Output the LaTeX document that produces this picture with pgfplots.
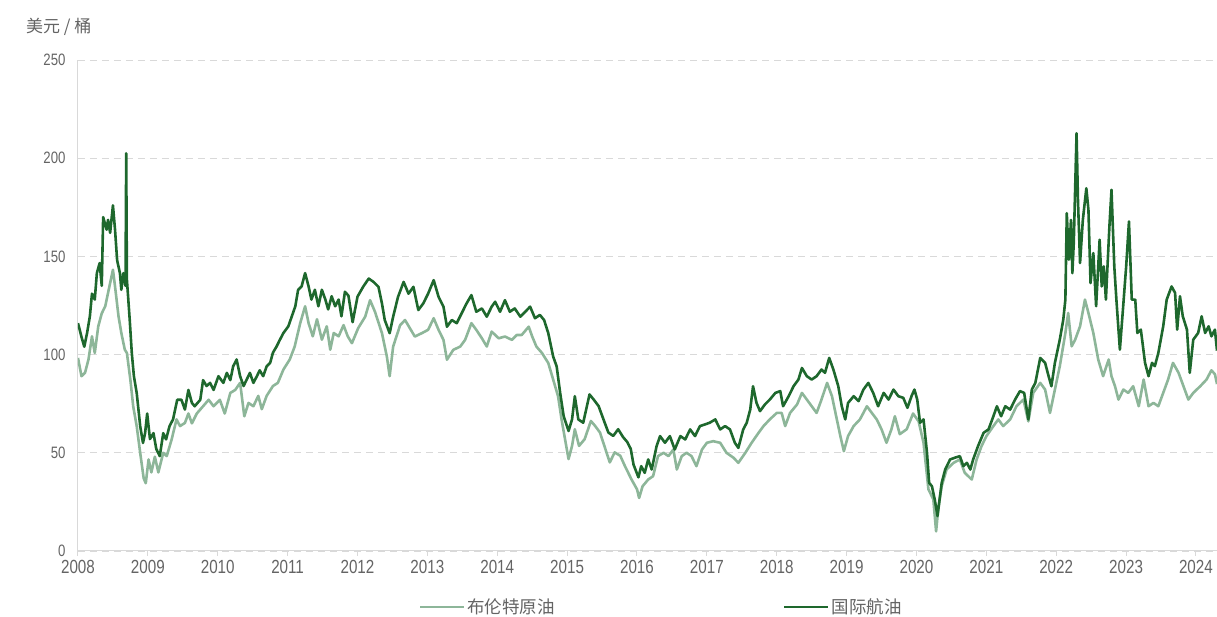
\documentclass[border=0pt]{standalone}
\usepackage{fontspec}
\setmainfont{Liberation Sans}[FakeStretch=0.8]
\newfontfamily\cjk{Noto Sans CJK SC}
\usepackage{pgfplots}
\usepackage{pgfplotstable}
\pgfplotsset{compat=1.18}
\usetikzlibrary{calc}
\definecolor{darkg}{RGB}{30,104,45}
\definecolor{lightg}{RGB}{141,182,153}
\definecolor{txt}{RGB}{100,100,100}
\definecolor{axl}{RGB}{217,217,217}

\pgfplotstableread{
t v
2008.00 116
2008.05 109
2008.09 104
2008.13 111
2008.17 119.5
2008.20 131
2008.24 128
2008.27 141.5
2008.31 146.6
2008.34 135
2008.36 170
2008.41 163.6
2008.43 168.6
2008.46 162
2008.50 176
2008.53 163.6
2008.56 148
2008.60 141.5
2008.62 133
2008.65 141.5
2008.68 135
2008.69 202.5
2008.70 138
2008.72 128
2008.74 117.8
2008.77 100.8
2008.80 89
2008.84 80.5
2008.89 63.6
2008.93 55
2008.96 60
2008.99 70
2009.03 57
2009.08 60
2009.12 52
2009.17 48.3
2009.22 60
2009.26 56.8
2009.31 63.6
2009.36 67
2009.42 77
2009.48 77
2009.53 72
2009.58 82
2009.63 75.4
2009.67 73.7
2009.75 77
2009.79 87
2009.84 84
2009.89 85.6
2009.94 82
2010.01 89
2010.08 85.6
2010.13 90.7
2010.18 87
2010.22 94
2010.27 97.5
2010.32 89
2010.37 84
2010.41 87
2010.46 90.7
2010.51 85.6
2010.56 89
2010.60 92
2010.65 89
2010.70 94
2010.75 95.8
2010.79 101
2010.84 104
2010.89 107.6
2010.94 111
2011.01 114.4
2011.06 119.5
2011.11 124.6
2011.15 133
2011.20 134.7
2011.25 141.5
2011.30 134.7
2011.34 128
2011.39 133
2011.44 124.6
2011.49 133
2011.54 128
2011.58 123
2011.63 129.7
2011.68 124.6
2011.73 128
2011.77 119.5
2011.82 132
2011.87 130
2011.93 116.5
2012.00 129.5
2012.08 134.5
2012.16 138.7
2012.23 137
2012.30 134.5
2012.35 126
2012.39 117.6
2012.46 110.9
2012.51 119.3
2012.58 129.4
2012.66 137
2012.73 131
2012.80 134.5
2012.87 122.7
2012.94 126
2013.01 131
2013.09 137.9
2013.16 129.4
2013.23 124.4
2013.28 114.2
2013.35 117.6
2013.42 116
2013.49 121
2013.56 126
2013.63 130.3
2013.70 121.8
2013.78 123.5
2013.85 119.3
2013.92 124.4
2013.97 126.9
2014.04 121.8
2014.11 127.7
2014.18 121.8
2014.25 123.5
2014.33 119.3
2014.40 121.8
2014.47 124.4
2014.54 118.5
2014.61 120.2
2014.67 117.6
2014.73 110.9
2014.80 99
2014.85 94
2014.90 80.5
2014.95 68.7
2015.02 61.1
2015.07 67
2015.11 78.8
2015.16 67
2015.23 65.3
2015.32 79.7
2015.38 77.1
2015.45 73.8
2015.52 67
2015.59 60.3
2015.66 58.6
2015.73 62
2015.80 58
2015.86 55.5
2015.91 52
2015.95 44
2016.02 37.5
2016.06 43.2
2016.11 39.8
2016.16 46.6
2016.21 41.5
2016.28 53.4
2016.33 58.5
2016.40 55.1
2016.47 58.5
2016.54 51.7
2016.62 58.5
2016.69 56.8
2016.76 61.9
2016.83 58.5
2016.90 63.6
2016.97 64.4
2017.04 65.3
2017.12 67
2017.19 61.9
2017.26 63.6
2017.33 61.9
2017.40 55.1
2017.45 52.5
2017.52 61.9
2017.57 65.3
2017.62 72
2017.66 83.9
2017.71 75.4
2017.76 71.2
2017.83 74.6
2017.90 77.1
2017.98 80.5
2018.05 81.4
2018.09 73.7
2018.17 78.8
2018.24 83.9
2018.31 87.3
2018.36 93.2
2018.43 89
2018.50 87.3
2018.57 89
2018.64 92.4
2018.69 90.7
2018.75 98.3
2018.81 92.4
2018.88 83.9
2018.93 73.7
2018.98 67
2019.02 75.4
2019.10 78.8
2019.17 76.3
2019.24 82.2
2019.31 85.6
2019.38 80.5
2019.45 73.7
2019.53 80.5
2019.60 77.1
2019.67 82.2
2019.74 78.8
2019.81 78
2019.87 72.9
2019.93 79
2019.97 82.2
2020.01 77.1
2020.05 65.3
2020.10 67
2020.15 50
2020.18 34.7
2020.22 33
2020.26 26.3
2020.30 17.8
2020.33 26.3
2020.36 34.7
2020.41 41.5
2020.48 46.6
2020.55 47.5
2020.62 48.3
2020.67 43.2
2020.72 44.9
2020.77 41.5
2020.81 46.6
2020.88 53.4
2020.96 60.2
2021.03 61.9
2021.10 68.6
2021.15 73.7
2021.21 68.6
2021.27 73.7
2021.34 72
2021.41 77.1
2021.48 81.4
2021.54 80.5
2021.60 67
2021.65 82.2
2021.70 85.6
2021.77 98.3
2021.84 95.8
2021.89 89
2021.93 83.9
2021.98 95.8
2022.05 107.6
2022.10 117.8
2022.13 128
2022.15 172
2022.18 148.3
2022.21 168.6
2022.23 141.5
2022.25 156.8
2022.29 212.7
2022.31 178.8
2022.34 146.6
2022.38 168.6
2022.43 184.7
2022.46 173.7
2022.49 136.4
2022.53 151.7
2022.57 124.6
2022.62 158.5
2022.65 134.7
2022.68 144.9
2022.71 128
2022.76 165.2
2022.79 183.9
2022.83 144.9
2022.86 128
2022.91 102.5
2022.95 121.2
2023.00 144.9
2023.04 167.8
2023.08 128
2023.13 128
2023.16 111
2023.21 112.7
2023.27 95.8
2023.32 89
2023.37 95.8
2023.41 94.1
2023.46 100.8
2023.53 114.4
2023.58 128
2023.65 134.7
2023.70 131.4
2023.73 112.7
2023.77 129.7
2023.81 119.5
2023.87 112.7
2023.91 90.7
2023.96 107.6
2024.03 111
2024.08 119.5
2024.13 111
2024.18 114.4
2024.22 109.3
2024.27 112.7
2024.30 102
}\jet

\pgfplotstableread{
t v
2008.00 98.3
2008.05 89
2008.10 90.7
2008.15 97.5
2008.20 109.3
2008.24 100.8
2008.29 114.4
2008.34 121
2008.39 124.6
2008.43 131.4
2008.50 143.2
2008.53 134.7
2008.58 119.5
2008.62 111
2008.67 102.5
2008.70 100.8
2008.75 87
2008.79 73.7
2008.84 63.6
2008.89 50
2008.94 37
2008.97 34.5
2009.01 46.6
2009.05 40
2009.10 48
2009.15 40
2009.22 50
2009.27 48.3
2009.34 56.8
2009.41 67
2009.46 63.6
2009.53 65.2
2009.58 70
2009.63 65
2009.70 70
2009.79 73.7
2009.87 77
2009.94 73.7
2010.03 77
2010.10 70
2010.18 80.5
2010.25 82
2010.32 85.6
2010.38 68.6
2010.44 75.4
2010.51 73.7
2010.58 79
2010.63 72.2
2010.70 79
2010.79 84
2010.86 85.6
2010.94 92.4
2011.03 97.5
2011.10 104
2011.18 116
2011.25 124.6
2011.30 116
2011.36 109.3
2011.42 118
2011.49 107.6
2011.56 114.4
2011.61 102.5
2011.66 111
2011.73 109.3
2011.80 115
2011.86 109.3
2011.92 105.8
2012.01 113.5
2012.11 119.3
2012.18 127.7
2012.25 121.8
2012.35 110.9
2012.42 99
2012.46 89
2012.51 104.1
2012.61 115
2012.68 117.6
2012.75 113.4
2012.82 109.2
2012.92 110.9
2013.01 112.6
2013.09 118.5
2013.16 112.6
2013.23 107.5
2013.28 97.4
2013.37 102.4
2013.47 104.1
2013.54 107.5
2013.63 116
2013.70 112.6
2013.78 108.3
2013.85 104.1
2013.92 111.7
2014.02 108.3
2014.11 109.2
2014.21 107.5
2014.28 110
2014.35 110
2014.45 114.2
2014.50 109.2
2014.56 104.1
2014.64 100.8
2014.73 95.7
2014.80 87.3
2014.87 78.8
2014.92 67
2014.97 56.9
2015.02 46.8
2015.07 53.5
2015.11 62
2015.17 53.5
2015.25 56.9
2015.34 66.2
2015.40 63.7
2015.47 60.3
2015.54 52.7
2015.61 45.1
2015.68 50.2
2015.76 48.5
2015.83 43
2015.92 36.5
2016.00 31.4
2016.03 27
2016.08 33
2016.16 36.4
2016.23 38.1
2016.30 48.3
2016.38 50
2016.45 48.3
2016.52 51.7
2016.57 41.5
2016.64 48.3
2016.71 50
2016.78 48.3
2016.85 43.2
2016.93 51.7
2017.00 55.1
2017.09 55.9
2017.19 55.1
2017.28 50
2017.38 47.5
2017.45 44.9
2017.55 50
2017.64 55.1
2017.74 60.2
2017.81 63.6
2017.90 67
2018.00 70.3
2018.07 70.3
2018.12 63.6
2018.19 70.3
2018.29 74.6
2018.36 80.5
2018.43 77.1
2018.50 73.7
2018.57 70.3
2018.64 77.1
2018.72 85.6
2018.79 78.8
2018.85 68.6
2018.91 58.5
2018.96 50.8
2019.02 58.5
2019.10 63.6
2019.19 67
2019.29 73.7
2019.36 70.3
2019.43 67
2019.50 61.9
2019.57 55.1
2019.64 61.9
2019.69 68.6
2019.76 59.5
2019.86 62
2019.95 70
2020.03 66
2020.10 55.1
2020.17 31.4
2020.24 26.3
2020.28 10
2020.31 21.2
2020.36 33
2020.43 41.5
2020.53 44.9
2020.62 46.6
2020.69 39.8
2020.79 36.4
2020.86 46.6
2020.93 53.4
2021.00 58.5
2021.10 63.6
2021.17 67
2021.24 63.6
2021.34 67
2021.43 73.7
2021.53 77.1
2021.60 66
2021.67 80.5
2021.77 85.6
2021.84 82.2
2021.91 70.3
2021.98 82.2
2022.05 94.1
2022.13 111
2022.17 121.2
2022.22 104.2
2022.27 107.6
2022.34 114.4
2022.41 128
2022.46 121.2
2022.53 111
2022.60 97.5
2022.67 89
2022.75 97.5
2022.79 89
2022.84 83.9
2022.89 77.1
2022.96 82.2
2023.03 80.5
2023.10 83.9
2023.18 73.7
2023.25 87.3
2023.32 73.7
2023.39 75.4
2023.46 73.7
2023.53 80.5
2023.60 87.3
2023.67 95.8
2023.75 90.7
2023.82 83.9
2023.89 77.1
2023.96 80.5
2024.06 83.9
2024.15 87.3
2024.22 92
2024.27 90
2024.30 85
}\brent

\begin{document}
\begin{tikzpicture}
\begin{axis}[
  name=ax,
  scale only axis,
  width=1139pt, height=491pt,
  xmin=2008, xmax=2024.3,
  ymin=0, ymax=250,
  xtick={2008,2009,...,2024},
  ytick={0,50,...,250},
  /pgf/number format/assume math mode=true,
  xticklabel={\pgfmathprintnumber[1000 sep={}]{\tick}},
  yticklabel={\pgfmathprintnumber{\tick}},
  axis x line*=bottom, axis y line*=left,
  axis line style={draw=axl, line width=1pt, -},
  tick align=outside,
  major tick length=5pt,
  xtick style={draw=axl, line width=1pt},
  ytick style={draw=none},
  xticklabel style={font=\fontsize{19}{21}\selectfont, text=txt, yshift=-1pt},
  yticklabel style={font=\fontsize{16.5}{19}\selectfont, text=txt, xshift=-4pt},
  ymajorgrids,
  grid style={draw=axl, line width=0.9pt, dash pattern=on 7pt off 5pt},
  legend columns=2,
  legend cell align=left,
  legend style={draw=none, at={(0.512,-0.114)}, anchor=center,
    font=\cjk\fontsize{17.5}{20}\selectfont, text=txt},
  legend image code/.code={\draw[#1] (0pt,0pt) -- (44pt,0pt);},
]
\addplot[lightg, line width=2.6pt, line join=round] table[x=t,y=v]{\brent};
\addlegendentry{布伦特原油\hspace*{226pt}\mbox{}}
\addplot[darkg, line width=2.6pt, line join=round] table[x=t,y=v]{\jet};
\addlegendentry{国际航油}
\end{axis}
\node[anchor=west, text=txt, font=\cjk\fontsize{17}{20}\selectfont, inner sep=0pt] at ($(ax.north west)+(-52pt,33pt)$) {美元 / 桶};
\pgfresetboundingbox
\path[use as bounding box] ($(ax.south west)+(-78pt,-66pt)$) rectangle ($(ax.north east)+(0pt,60pt)$);
\end{tikzpicture}
\end{document}
